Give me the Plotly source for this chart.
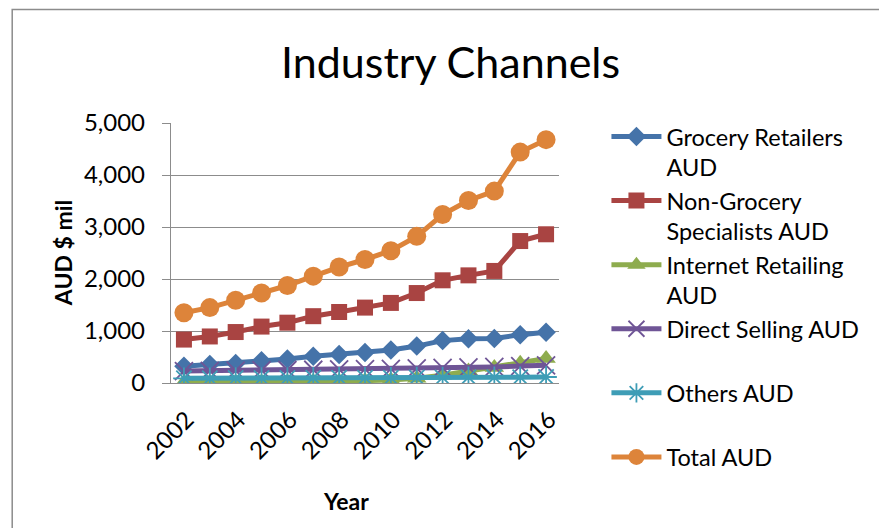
import plotly.graph_objects as go

years = [2002, 2003, 2004, 2005, 2006, 2007, 2008, 2009, 2010, 2011, 2012, 2013, 2014, 2015, 2016]
grocery = [320, 355, 375, 430, 460, 515, 550, 585, 635, 710, 815, 850, 855, 930, 975]
non_grocery = [835, 895, 980, 1085, 1160, 1285, 1365, 1450, 1540, 1730, 1975, 2070, 2155, 2730, 2860]
internet = [10, 12, 15, 18, 22, 28, 35, 45, 60, 90, 150, 230, 300, 380, 470]
direct = [230, 235, 240, 245, 250, 255, 260, 265, 270, 280, 290, 300, 310, 325, 340]
others = [90, 90, 95, 95, 95, 100, 100, 100, 100, 105, 105, 110, 110, 110, 115]
total = [1350, 1450, 1590, 1730, 1875, 2055, 2230, 2375, 2545, 2820, 3240, 3510, 3690, 4440, 4680]

names = ["Grocery Retailers<br>AUD", "Non-Grocery<br>Specialists AUD", "Internet Retailing<br>AUD",
         "Direct Selling AUD<br>\u00a0", "Others AUD<br>\u00a0", "Total AUD"]
tick_years = [2002, 2004, 2006, 2008, 2010, 2012, 2014, 2016]
y_ticks = [0, 1000, 2000, 3000, 4000, 5000]
y_tick_text = ["0", "1,000", "2,000", "3,000", "4,000", "5,000"]

FONT = "Lato"
colors = ["#4573A9", "#A94442", "#8EAC4E", "#6F5596", "#3E9DB6", "#DD843A"]
series = [grocery, non_grocery, internet, direct, others, total]
symbols = ["diamond", "square", "triangle-up", "x-thin-open", "asterisk-open", "circle"]
sizes = [15, 16, 17, 18, 18, 19]

fig = go.Figure()
for name, vals, col, sym, sz in zip(names, series, colors, symbols, sizes):
    marker = dict(symbol=sym, size=sz, color=col)
    if "thin" in sym or "asterisk" in sym:
        marker["line"] = dict(color=col, width=1.8)
    else:
        marker["line"] = dict(width=0)
    fig.add_trace(go.Scatter(x=years, y=vals, name=name, mode="lines+markers",
                             line=dict(color=col, width=5), marker=marker))

W, H = 879, 528
L, R, T, B = 171, 879 - 559.5, 123.3, 528 - 382.7
pw = W - L - R
ph = H - T - B

def px_x(x):
    return (x - L) / pw

def px_y(y):
    return (H - B - y) / ph

fig.update_layout(
    width=W, height=H,
    margin=dict(l=L, r=R, t=T, b=B, pad=0, autoexpand=False),
    paper_bgcolor="white", plot_bgcolor="white",
    font=dict(family=FONT, color="black", size=24),
    showlegend=True,
    legend=dict(x=px_x(607), y=px_y(115), xref="paper", yref="paper",
                xanchor="left", yanchor="top", maxheight=600,
                font=dict(family=FONT, size=23.5, color="black"),
                valign="top", tracegroupgap=0, itemwidth=50,
                bgcolor="rgba(0,0,0,0)"),
    xaxis=dict(range=[2001.5, 2016.5], tickvals=tick_years, ticktext=[str(v) for v in tick_years],
               tickangle=-45, showgrid=False, showline=True, linecolor="#8C8C8C", linewidth=1.3,
               ticks="", tickfont=dict(family=FONT, size=24), zeroline=False,
               ticklabelstandoff=12, ticklabelshift=3),
    yaxis=dict(range=[0, 5000], tickvals=y_ticks, ticktext=y_tick_text, showgrid=True,
               gridcolor="#8C8C8C", gridwidth=1.3, showline=True, linecolor="#8C8C8C", linewidth=1.3,
               ticks="outside", ticklen=8, tickcolor="#8C8C8C", tickwidth=1.3,
               tickfont=dict(family=FONT, size=24), zeroline=False, ticklabelstandoff=12),
    shapes=[dict(type="rect", xref="paper", yref="paper", x0=px_x(12), x1=px_x(900),
                 y0=px_y(560), y1=px_y(10), line=dict(color="#8C8C8C", width=1.5),
                 fillcolor="rgba(0,0,0,0)", layer="below")],
    annotations=[
        dict(text="Industry Channels", xref="paper", yref="paper", x=px_x(451), y=px_y(62),
             xanchor="center", yanchor="middle", showarrow=False,
             font=dict(family=FONT, size=43, color="black")),
        dict(text="<b>AUD $ mil</b>", xref="paper", yref="paper", x=px_x(63), y=px_y(253),
             xanchor="center", yanchor="middle", textangle=-90, showarrow=False,
             font=dict(family=FONT, size=23, color="black")),
        dict(text="<b>Year</b>", xref="paper", yref="paper", x=px_x(346), y=px_y(500),
             xanchor="center", yanchor="middle", showarrow=False,
             font=dict(family=FONT, size=23, color="black")),
    ],
)

fig.write_html("out.html")
